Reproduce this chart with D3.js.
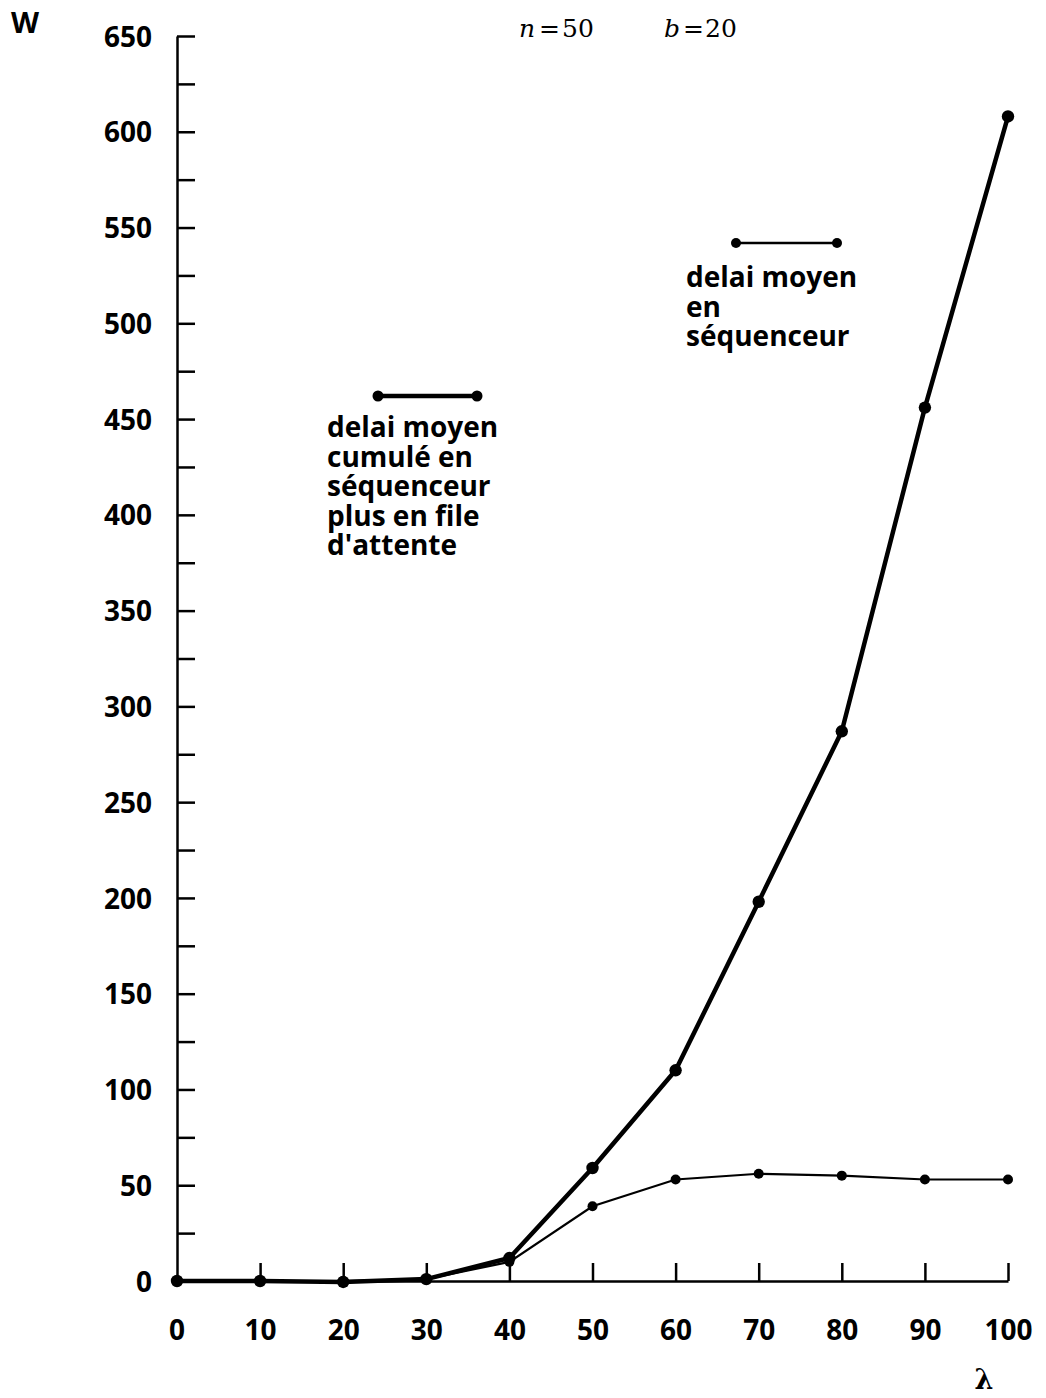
<!DOCTYPE html>
<html><head><meta charset="utf-8">
<script src="https://cdn.jsdelivr.net/npm/d3@7"></script>
<style>
body{margin:0;background:#fff;}
svg text{font-family:"Open Sans",sans-serif;font-weight:700;fill:#000;}
</style></head>
<body><svg id="c" width="1046" height="1398"></svg>
<script>
const lambdaVals = [0,10,20,30,40,50,60,70,80,90,100];
const cumulSeries = [0,0,-0.5,1,12,59,110,198,287,456,608];
const sequenceurSeries = [0,0,0,1,10,39,53,56,55,53,53];
const yTicks = d3.range(0,651,25);
const xTicks = [0,10,20,30,40,50,60,70,80,90,100];
const legendCumul = ["delai moyen","cumulé en","séquenceur","plus en file","d'attente"];
const legendSeq = ["delai moyen","en","séquenceur"];

const svg = d3.select("#c");
const x = d3.scaleLinear().domain([0,100]).range([177,1008]);
const y = d3.scaleLinear().domain([0,650]).range([1281,36]);

const yAxis = d3.axisLeft(y).tickValues(yTicks).tickSizeInner(-18).tickSizeOuter(0).tickPadding(25)
  .tickFormat(d => d % 50 === 0 ? d : "");
const gy = svg.append("g").attr("transform","translate(177,0)").call(yAxis);
gy.selectAll("text").style("font-size","28px").attr("dy","0.36em");
gy.selectAll("line,path").attr("stroke","#000").attr("stroke-width",2.5);

const xAxis = d3.axisBottom(x).tickValues(xTicks.filter(d=>d>0)).tickSizeInner(-18).tickSizeOuter(0).tickPadding(39);
const gx = svg.append("g").attr("transform","translate(0,1281)").call(xAxis);
gx.selectAll("text").style("font-size","28px");
gx.selectAll("line,path").attr("stroke","#000").attr("stroke-width",2.5);
gx.append("text").attr("x",x(0)).attr("y",39).attr("dy","0.71em").attr("text-anchor","middle")
  .style("font-size","28px").text("0");

const line = d3.line().x((d,i)=>x(lambdaVals[i])).y(d=>y(d));
svg.append("path").datum(sequenceurSeries).attr("d",line).attr("fill","none").attr("stroke","#000").attr("stroke-width",2.2);
svg.append("path").datum(cumulSeries).attr("d",line).attr("fill","none").attr("stroke","#000").attr("stroke-width",4.5).attr("stroke-linejoin","round");
svg.append("g").selectAll("circle").data(sequenceurSeries).join("circle")
  .attr("cx",(d,i)=>x(lambdaVals[i])).attr("cy",d=>y(d)).attr("r",5);
svg.append("g").selectAll("circle").data(cumulSeries).join("circle")
  .attr("cx",(d,i)=>x(lambdaVals[i])).attr("cy",d=>y(d)).attr("r",6.2);

// legends
function legend(x0,x1,ly,sw,r,tx,ty,lines){
  const g = svg.append("g");
  g.append("line").attr("x1",x0).attr("x2",x1).attr("y1",ly).attr("y2",ly).attr("stroke","#000").attr("stroke-width",sw);
  g.selectAll("circle").data([x0,x1]).join("circle").attr("cx",d=>d).attr("cy",ly).attr("r",r);
  const t = g.append("text").attr("y",ty).style("font-size","28px");
  t.selectAll("tspan").data(lines).join("tspan").attr("x",tx).attr("dy",(d,i)=>i===0?0:29.5).text(d=>d);
}
legend(378,477,396,4.5,5.5,327,437,legendCumul);
legend(736,837,243,2.5,5,686,287,legendSeq);

svg.append("text").attr("x",11).attr("y",33).style("font-size","29px").text("W");

const param = svg.append("text").attr("y",37).style("font-family","'DejaVu Serif',serif").style("font-weight","400").style("font-size","25px");
param.append("tspan").attr("x",519).style("font-style","italic").text("n");
param.append("tspan").attr("x",539).text("=");
param.append("tspan").attr("x",562).text("50");
param.append("tspan").attr("x",664).style("font-style","italic").text("b");
param.append("tspan").attr("x",683).text("=");
param.append("tspan").attr("x",705).text("20");

svg.append("text").attr("x",984).attr("y",1389).attr("text-anchor","middle")
  .style("font-family","'DejaVu Serif',serif").style("font-weight","700").style("font-size","27px").text("λ");
</script></body></html>
